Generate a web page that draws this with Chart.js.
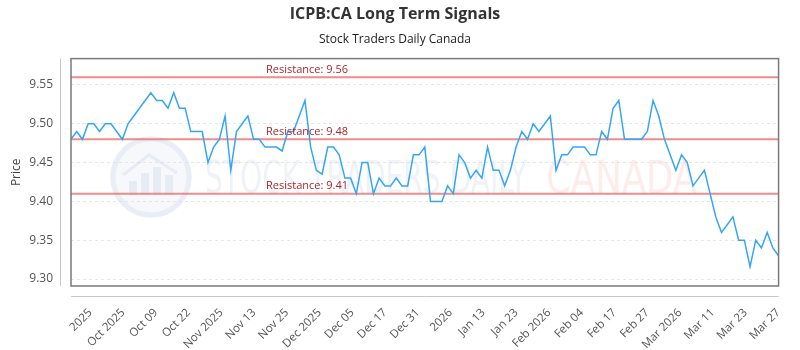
<!DOCTYPE html>
<html>
<head>
<meta charset="utf-8">
<title>ICPB:CA Long Term Signals</title>
<script src="https://cdn.jsdelivr.net/npm/chart.js@4/dist/chart.umd.min.js"></script>
<style>
  html, body { margin: 0; padding: 0; background: #fff; }
  #chart { display: block; }
</style>
</head>
<body>
<canvas id="chart" width="800" height="350"></canvas>
<script>
// closing prices, one per trading day (Sep 29 2025 .. Mar 27 2026)
const prices = [
  9.48, 9.49, 9.48, 9.50, 9.50, 9.49, 9.50, 9.50, 9.49, 9.48,
  9.50, 9.51, 9.52, 9.53, 9.54, 9.53, 9.53, 9.52, 9.54, 9.52,
  9.52, 9.49, 9.49, 9.49, 9.45, 9.47, 9.48, 9.51, 9.44, 9.49,
  9.50, 9.51, 9.48, 9.48, 9.47, 9.47, 9.47, 9.465, 9.49, 9.49,
  9.51, 9.53, 9.47, 9.44, 9.435, 9.47, 9.47, 9.46, 9.43, 9.43,
  9.41, 9.45, 9.45, 9.41, 9.43, 9.42, 9.42, 9.43, 9.42, 9.42,
  9.46, 9.46, 9.47, 9.40, 9.40, 9.40, 9.42, 9.41, 9.46, 9.45,
  9.43, 9.44, 9.43, 9.47, 9.44, 9.44, 9.42, 9.44, 9.47, 9.49,
  9.48, 9.50, 9.49, 9.50, 9.51, 9.44, 9.46, 9.46, 9.47, 9.47,
  9.47, 9.46, 9.46, 9.49, 9.48, 9.52, 9.53, 9.48, 9.48, 9.48,
  9.48, 9.49, 9.53, 9.51, 9.48, 9.46, 9.44, 9.46, 9.45, 9.42,
  9.43, 9.44, 9.41, 9.38, 9.36, 9.37, 9.38, 9.35, 9.35, 9.316,
  9.35, 9.34, 9.36, 9.34, 9.33
];

const resistances = [9.56, 9.48, 9.41];

const xTickLabels = [
  '2025', 'Oct 2025', 'Oct 09', 'Oct 22', 'Nov 2025', 'Nov 13', 'Nov 25',
  'Dec 2025', 'Dec 05', 'Dec 17', 'Dec 31', '2026', 'Jan 13', 'Jan 23',
  'Feb 2026', 'Feb 04', 'Feb 17', 'Feb 27', 'Mar 2026', 'Mar 11', 'Mar 23', 'Mar 27'
];
const yTicks = [9.30, 9.35, 9.40, 9.45, 9.50, 9.55];

// label ticks sit at even steps along the day index
const firstTick = 3.4, tickStep = 5.74;

Chart.defaults.font.family = "'Open Sans', sans-serif";
Chart.defaults.color = '#555';

const lastIdx = prices.length - 1;

const frameAndAxes = {
  id: 'frameAndAxes',
  afterDraw(chart) {
    const { ctx, chartArea: a } = chart;
    ctx.save();
    ctx.strokeStyle = '#7a7a7a';
    ctx.lineWidth = 1.5;
    ctx.strokeRect(a.left, a.top, a.right - a.left, a.bottom - a.top);
    ctx.strokeStyle = '#c8c8c8';
    ctx.lineWidth = 1;
    ctx.beginPath();
    ctx.moveTo(a.left - 10.5, a.top);
    ctx.lineTo(a.left - 10.5, a.bottom);
    ctx.moveTo(a.left, a.bottom + 10.5);
    ctx.lineTo(a.right, a.bottom + 10.5);
    ctx.stroke();
    ctx.restore();
  }
};

const resistanceLabels = {
  id: 'resistanceLabels',
  afterDatasetsDraw(chart) {
    const { ctx, chartArea: a } = chart;
    const y = chart.scales.y;
    ctx.save();
    ctx.font = "11px 'Open Sans', sans-serif";
    ctx.fillStyle = '#a8282c';
    ctx.textAlign = 'left';
    ctx.textBaseline = 'bottom';
    resistances.forEach(r => {
      ctx.fillText('Resistance: ' + r.toFixed(2), a.left + 195, y.getPixelForValue(r) - 2);
    });
    ctx.restore();
  }
};

const watermark = {
  id: 'watermark',
  beforeDatasetsDraw(chart) {
    const ctx = chart.ctx;
    ctx.save();
    // round logo
    const cx = 151, cy = 177, r = 41;
    ctx.fillStyle = 'rgba(220,228,240,0.25)';
    ctx.beginPath(); ctx.arc(cx, cy, r, 0, Math.PI * 2); ctx.fill();
    ctx.strokeStyle = 'rgba(208,218,234,0.35)';
    ctx.lineWidth = 5;
    ctx.beginPath(); ctx.arc(cx, cy, r - 3, 0, Math.PI * 2); ctx.stroke();
    ctx.fillStyle = 'rgba(195,206,225,0.3)';
    [[-22, 14], [-10, 22], [2, 28], [14, 20]].forEach(([dx, h]) => {
      ctx.fillRect(cx + dx, cy + 18 - h, 8, h);
    });
    ctx.strokeStyle = 'rgba(200,210,228,0.35)';
    ctx.lineWidth = 3;
    ctx.beginPath();
    ctx.moveTo(cx - 28, cy - 2); ctx.lineTo(cx - 2, cy - 22); ctx.lineTo(cx + 26, cy - 4);
    ctx.stroke();
    // words
    ctx.textBaseline = 'alphabetic';
    ctx.font = "44px 'Liberation Sans Narrow', 'DejaVu Sans Condensed', sans-serif";
    ctx.fillStyle = 'rgba(215,222,235,0.4)';
    let w = ctx.measureText('STOCK TRADERS DAILY').width;
    ctx.save();
    ctx.translate(205, 193);
    ctx.scale(322 / w, 1);
    ctx.fillText('STOCK TRADERS DAILY', 0, 0);
    ctx.restore();
    ctx.fillStyle = 'rgba(250,200,200,0.35)';
    w = ctx.measureText('CANADA').width;
    ctx.translate(546, 193);
    ctx.scale(151 / w, 1);
    ctx.fillText('CANADA', 0, 0);
    ctx.restore();
  }
};

new Chart(document.getElementById('chart'), {
  type: 'line',
  data: {
    datasets: [
      {
        data: prices.map((v, i) => ({ x: i, y: v })),
        borderColor: '#35a6f6',
        borderWidth: 1.5,
        pointRadius: 0,
        tension: 0,
        fill: false
      },
      ...resistances.map(r => ({
        data: [{ x: 0, y: r }, { x: lastIdx, y: r }],
        borderColor: 'rgba(232,112,112,0.8)',
        borderWidth: 2,
        pointRadius: 0,
        fill: false
      }))
    ]
  },
  options: {
    responsive: false,
    devicePixelRatio: 1,
    animation: false,
    layout: { padding: { left: 0, right: 10, top: 0, bottom: 0 } },
    plugins: {
      legend: { display: false },
      tooltip: { enabled: false },
      title: {
        display: true,
        text: 'ICPB:CA Long Term Signals',
        color: '#333',
        font: { size: 16, weight: 'bold' },
        padding: { top: 5, bottom: 4 }
      },
      subtitle: {
        display: true,
        text: 'Stock Traders Daily Canada',
        color: '#222',
        font: { size: 12 },
        padding: { top: 4, bottom: 12 }
      }
    },
    scales: {
      x: {
        type: 'linear',
        min: 0,
        max: lastIdx,
        grid: { display: false },
        border: { display: false },
        ticks: {
          autoSkip: false,
          minRotation: 45,
          maxRotation: 45,
          padding: 12,
          color: '#555',
          font: { size: 11.5 },
          callback: (v, i) => xTickLabels[i]
        },
        afterBuildTicks: s => {
          s.ticks = xTickLabels.map((_, i) => ({ value: firstTick + i * tickStep }));
        },
        afterFit: s => { s.height = 64; }
      },
      y: {
        min: 9.291,
        max: 9.584,
        grid: { color: '#e6e6e6', drawTicks: false },
        border: { display: false, dash: [3, 3] },
        title: {
          display: true,
          text: 'Price',
          color: '#444',
          font: { size: 12 },
          padding: { top: 9, bottom: 0 }
        },
        ticks: {
          padding: 18,
          color: '#555',
          font: { size: 12 },
          callback: v => v.toFixed(2)
        },
        afterBuildTicks: s => {
          s.ticks = yTicks.map(v => ({ value: v }));
        },
        afterFit: s => { s.width = 71; }
      }
    }
  },
  plugins: [watermark, resistanceLabels, frameAndAxes]
});
</script>
</body>
</html>
